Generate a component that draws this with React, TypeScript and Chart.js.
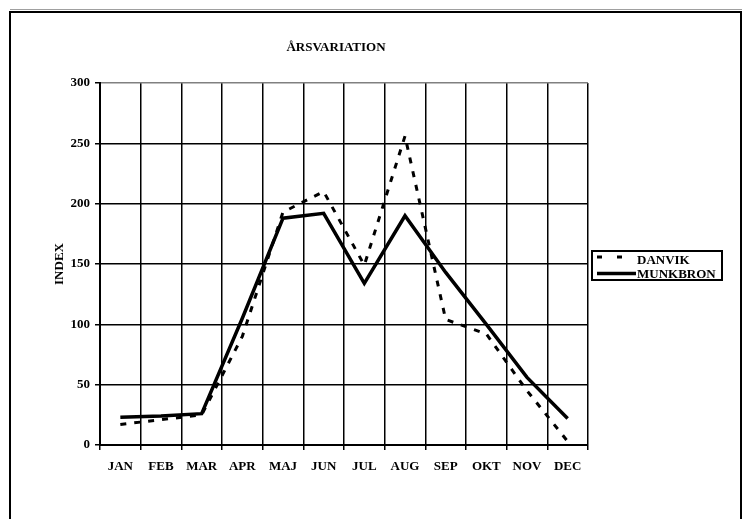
import React, { useEffect, useRef } from "react";
import { Chart, registerables } from "chart.js";

Chart.register(...registerables);

const months = ["JAN", "FEB", "MAR", "APR", "MAJ", "JUN", "JUL", "AUG", "SEP", "OKT", "NOV", "DEC"];
const danvik = [17, 21, 25, 90, 193, 210, 149, 256, 104, 92, 45, 3];
const munkbron = [23, 24, 26, 105, 188, 192, 134, 190, 143, 100, 56, 22];
const seriesNames = ["DANVIK", "MUNKBRON"];
const yMin = 0;
const yMax = 300;
const yStep = 50;
const chartTitle = "ÅRSVARIATION";
const yTitle = "INDEX";

const FONT = "'Liberation Serif', 'Times New Roman', serif";

const titlePlugin = {
  id: "frameTitle",
  afterDraw(chart: any) {
    const ctx = chart.ctx;
    ctx.save();
    ctx.font = `bold 13px ${FONT}`;
    ctx.fillStyle = "#000";
    ctx.textAlign = "center";
    ctx.textBaseline = "middle";
    ctx.fillText(chartTitle, 336, 48);
    ctx.restore();
  },
};

const legendPlugin = {
  id: "boxLegend",
  afterDraw(chart: any) {
    const ctx = chart.ctx;
    const left = chart.chartArea.right + 4;
    const top = 251;
    const w = 130;
    const h = 29;
    ctx.save();
    ctx.fillStyle = "#fff";
    ctx.fillRect(left, top, w, h);
    ctx.strokeStyle = "#000";
    ctx.lineWidth = 2;
    ctx.strokeRect(left, top, w, h);
    chart.data.datasets.forEach((ds: any, i: number) => {
      const rowY = top + 9 + i * 13.5;
      const sampleY = i === 0 ? rowY - 3 : rowY;
      ctx.beginPath();
      ctx.strokeStyle = ds.borderColor;
      ctx.lineWidth = ds.borderWidth;
      ctx.setLineDash(ds.borderDash && ds.borderDash.length ? [5, 15] : []);
      ctx.moveTo(left + 5, sampleY);
      ctx.lineTo(left + 44, sampleY);
      ctx.stroke();
      ctx.setLineDash([]);
      ctx.font = `bold 13px ${FONT}`;
      ctx.fillStyle = "#000";
      ctx.textAlign = "left";
      ctx.textBaseline = "middle";
      ctx.fillText(ds.label, left + 45, rowY + 1);
    });
    ctx.restore();
  },
};

export default function App() {
  const canvasRef = useRef<HTMLCanvasElement | null>(null);

  useEffect(() => {
    if (!canvasRef.current) return;
    Chart.defaults.font.family = FONT;
    const chart = new Chart(canvasRef.current, {
      type: "line",
      data: {
        labels: months,
        datasets: [
          {
            label: seriesNames[0],
            data: danvik,
            borderColor: "#000",
            borderWidth: 3,
            borderDash: [6, 8],
            pointRadius: 0,
            tension: 0,
            fill: false,
          },
          {
            label: seriesNames[1],
            data: munkbron,
            borderColor: "#000",
            borderWidth: 3.5,
            pointRadius: 0,
            tension: 0,
            fill: false,
          },
        ],
      },
      options: {
        responsive: false,
        animation: false,
        devicePixelRatio: 1,
        layout: { padding: { left: 52, right: 158, top: 83, bottom: 34 } },
        plugins: {
          legend: { display: false },
          title: { display: false },
          tooltip: { enabled: false },
        },
        scales: {
          x: {
            type: "category",
            offset: true,
            afterFit: (s: any) => {
              s.height = 40;
            },
            grid: {
              offset: true,
              color: (c: any) => (c.index === months.length ? "#808080" : "#000"),
              lineWidth: 1.5,
              tickColor: "#000",
              tickLength: 5,
              drawTicks: true,
            },
            border: { display: true, color: "#000", width: 2 },
            ticks: {
              padding: 9,
              color: "#000",
              font: { size: 13, weight: "bold", family: FONT },
              maxRotation: 0,
              autoSkip: false,
            },
          },
          y: {
            min: yMin,
            max: yMax,
            afterFit: (s: any) => {
              s.width = 48;
            },
            grid: {
              color: (c: any) => (c.tick && c.tick.value === yMax ? "#808080" : "#000"),
              lineWidth: 1.5,
              tickColor: "#000",
              tickLength: 5,
              drawTicks: true,
            },
            border: { display: true, color: "#000", width: 2 },
            ticks: {
              stepSize: yStep,
              padding: 5,
              color: "#000",
              font: { size: 13, weight: "bold", family: FONT },
            },
            title: {
              display: true,
              text: yTitle,
              color: "#000",
              padding: { top: 0, bottom: 0 },
              font: { size: 13, weight: "bold", family: FONT },
            },
          },
        },
      },
      plugins: [titlePlugin, legendPlugin],
    } as any);
    return () => chart.destroy();
  }, []);

  return (
    <div
      style={{
        position: "fixed",
        left: 0,
        top: 0,
        width: 746,
        height: 519,
        overflow: "hidden",
        background: "#fff",
      }}
    >
      <div
        style={{
          position: "absolute",
          left: 10,
          top: 9,
          width: 732,
          height: 1,
          background: "#a0a0a0",
        }}
      />
      <div
        style={{
          position: "absolute",
          left: 9,
          top: 11,
          width: 733,
          height: 600,
          border: "2px solid #000",
          boxSizing: "border-box",
        }}
      />
      <canvas
        ref={canvasRef}
        width={746}
        height={519}
        style={{ position: "absolute", left: 0, top: 0, width: 746, height: 519 }}
      />
    </div>
  );
}
